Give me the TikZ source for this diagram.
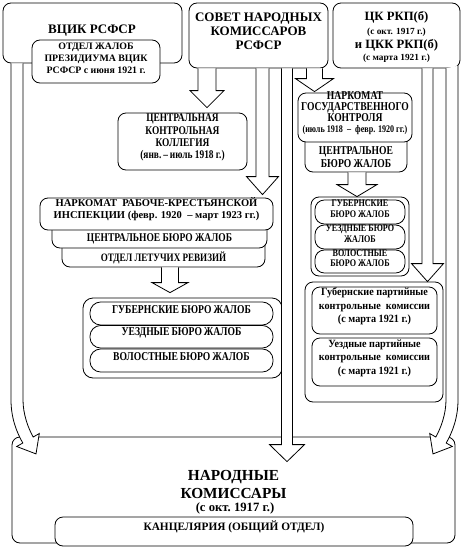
\documentclass[tikz,border=0pt]{standalone}
\usepackage{fontspec}
\setmainfont{Liberation Serif}
\newfontfamily\condA[FakeStretch=0.8]{Liberation Serif}
\newfontfamily\condB[FakeStretch=0.92]{Liberation Serif}
\usetikzlibrary{fit,calc}
\newcommand{\myfs}[2]{\fontsize{#1}{#2}\selectfont\bfseries}
\newcommand{\harrow}[5]{%
  \draw[harrowst] let \p1=(#1), \p2=(#2) in
    (\x2-#3*0.75pt,\y1) -- (\x2-#3*0.75pt,\y2+#5*0.75pt) -- (\x2-#4*0.75pt,\y2+#5*0.75pt)
    -- (\x2,\y2) -- (\x2+#4*0.75pt,\y2+#5*0.75pt) -- (\x2+#3*0.75pt,\y2+#5*0.75pt) -- (\x2+#3*0.75pt,\y1);}
\begin{document}
\begin{tikzpicture}[x=0.75pt,y=-0.75pt,
  box/.style={draw, fill=white, rounded corners=6pt, inner sep=0pt, line width=0.6pt, align=center},
  pill/.style={box, rounded corners=7pt},
  harrowst/.style={draw, fill=white, line width=0.6pt, line join=miter},
  lbl/.style={inner sep=0pt, align=center}]
\fill[white] (0,0) rectangle (465,550);
\useasboundingbox (0,0) rectangle (465,550);
% top row
\node[box, fit={(3,3) (182,63)}] (vcik) {};
\node[lbl, font=\myfs{9.75}{11}] (vcikt) at (92,31) {ВЦИК РСФСР};
\node[box, fit={(32,40) (160,83)}, font=\myfs{7.4}{9}] (otdel) {ОТДЕЛ ЖАЛОБ\\ПРЕЗИДИУМА ВЦИК\\РСФСР с июня 1921 г.};
\node[box, fit={(189,3) (328,68)}, font=\myfs{9.75}{10.5}] (sov) {СОВЕТ НАРОДНЫХ\\КОМИССАРОВ\\РСФСР};
\node[box, fit={(333,3) (460,68)}] (ck) {};
\node[lbl, font=\myfs{9.5}{10}] (ck1) at (396.5,17) {ЦК РКП(б)};
\node[lbl, font=\myfs{7}{8}] (ck2) at (396.5,32.5) {(с окт. 1917 г.)};
\node[lbl, font=\myfs{9.5}{10}] (ck3) at (396.5,45) {и ЦКК РКП(б)};
\node[lbl, font=\myfs{7}{8}] (ck4) at (396.5,58.5) {(с марта 1921 г.)};
% middle left
\node[box, fit={(118,113) (247,170)}, font=\condA\myfs{8.8}{9.3}] (tskk) {ЦЕНТРАЛЬНАЯ\\КОНТРОЛЬНАЯ\\КОЛЛЕГИЯ\\(янв.\,–\,июль 1918 г.)};
% middle right
\node[box, fit={(305,125) (407,172)}] (ngkcbj) {};
\node[lbl, font=\condA\myfs{9}{9.75}] (ngkcbjt) at (356,157) {ЦЕНТРАЛЬНОЕ\\БЮРО ЖАЛОБ};
\node[box, fit={(298,93) (412,142)}, font=\condA\myfs{9}{8.25}] (ngk) {НАРКОМАТ\\ГОСУДАРСТВЕННОГО\\КОНТРОЛЯ\\{\fontsize{7.6}{8.25}\selectfont(июль 1918\ \ –\ \ февр. 1920 гг.)}};
\node[box, fit={(311,197) (409,276)}] (rgrp) {};
\node[pill, fit={(315,200) (405,224)}, font=\condA\myfs{7.6}{7.8}] (rg1) {ГУБЕРНСКИЕ\\БЮРО ЖАЛОБ};
\node[pill, fit={(315,225) (405,249)}, font=\condA\myfs{7.6}{7.8}] (rg2) {УЕЗДНЫЕ БЮРО\\ЖАЛОБ};
\node[pill, fit={(315,250) (405,273)}, font=\condA\myfs{7.6}{7.8}] (rg3) {ВОЛОСТНЫЕ\\БЮРО ЖАЛОБ};
% NRKI stack
\node[box, fit={(62,235) (265,267)}] (olr) {};
\node[lbl, font=\condA\myfs{8.5}{9}] (olrt) at (163.5,257.5) {ОТДЕЛ ЛЕТУЧИХ РЕВИЗИЙ};
\node[box, fit={(52,215) (267,248)}] (nrkicbj) {};
\node[lbl, font=\condA\myfs{8.9}{9}] (nrkicbjt) at (159.5,239) {ЦЕНТРАЛЬНОЕ БЮРО ЖАЛОБ};
\node[box, fit={(40,198) (273,230)}, font=\myfs{7.9}{9}] (nrki) {НАРКОМАТ\ \ РАБОЧЕ-КРЕСТЬЯНСКОЙ\\ИНСПЕКЦИИ (февр. 1920\ \ – март 1923 гг.)};
% left group
\node[box, rounded corners=7.5pt, fit={(83,298) (282,378)}] (lgrp) {};
\node[pill, rounded corners=8pt, fit={(90,302) (273,325)}, font=\condA\myfs{9}{9}] (lg1) {ГУБЕРНСКИЕ\,БЮРО\,ЖАЛОБ};
\node[pill, rounded corners=8pt, fit={(90,325.5) (273,348)}, font=\condA\myfs{9}{9}] (lg2) {УЕЗДНЫЕ\,БЮРО\,ЖАЛОБ};
\node[pill, rounded corners=8pt, fit={(90,349) (273,372)}, font=\condA\myfs{9}{9}] (lg3) {ВОЛОСТНЫЕ\,БЮРО\,ЖАЛОБ};
% party commissions
\node[box, fit={(305,282) (443,402)}] (pgrp) {};
\node[box, fit={(312,287) (437,334)}, font=\condB\myfs{8.3}{10}] (pg1) {Губернские партийные\\контрольные\ \ комиссии\\(с марта 1921 г.)};
\node[box, fit={(312,338) (437,386)}, font=\condB\myfs{8.3}{10}] (pg2) {Уездные партийные\\контрольные\ \ комиссии\\(с марта 1921 г.)};
% bottom
\node[box, fit={(12,437) (455,543)}] (nk) {};
\node[lbl, font=\myfs{11.5}{12}] (nk1) at (233.5,477) {НАРОДНЫЕ};
\node[lbl, font=\myfs{11.5}{12}] (nk2) at (233.5,493) {КОМИССАРЫ};
\node[lbl, font=\myfs{9.5}{10}] (nk3) at (235,508) {(с окт.\ 1917 г.)};
\node[box, fit={(55,517) (413,546)}, font=\myfs{8.5}{9}] (kanc) {КАНЦЕЛЯРИЯ (ОБЩИЙ ОТДЕЛ)};
% straight hollow arrows
\harrow{sov.south -| 207,0}{$(tskk.north -| 207,0)+(0,-5)$}{9}{17}{17}
\harrow{sov.south -| 262.5,0}{$(nrki.north -| 262.5,0)+(0,-3)$}{6.5}{16}{18}
\harrow{sov.south -| 287,0}{$(nk.north -| 287,0)+(0,25)$}{5.5}{17.5}{17}
\harrow{sov.south -| 314.5,0}{$(ngk.north -| 314.5,0)+(0,-1)$}{8}{19}{13}
\harrow{ngkcbj.south -| 357,0}{rgrp.north -| 357,0}{9}{20}{12}
\harrow{olr.south -| 170,0}{$(lgrp.north -| 170,0)+(0,-5)$}{8.5}{18}{10}
\harrow{ck.south -| 427.5,0}{pgrp.north -| 427.5,0}{5.5}{16}{18}
% curved hollow arrows
\draw[harrowst] (vcik.south -| 11,0) -- (11,400) .. controls (11,418) and (16.8,432.6) .. (22.8,443)
  -- (16.7,446.5) -- (36,453.9) -- (39.3,433.5) -- (33.2,437)
  .. controls (28.2,428.3) and (23,414) .. (23,400) -- (vcik.south -| 23,0);
\draw[harrowst] ($(ck.south -| 458,0)+(0,-2.7)$) -- (458,400) .. controls (458,418) and (452.2,432.6) .. (446.2,443)
  -- (452.3,446.5) -- (433,453.9) -- (429.7,433.5) -- (435.8,437)
  .. controls (440.8,428.3) and (446,414) .. (446,400) -- (ck.south -| 446,0);
\end{tikzpicture}
\end{document}
